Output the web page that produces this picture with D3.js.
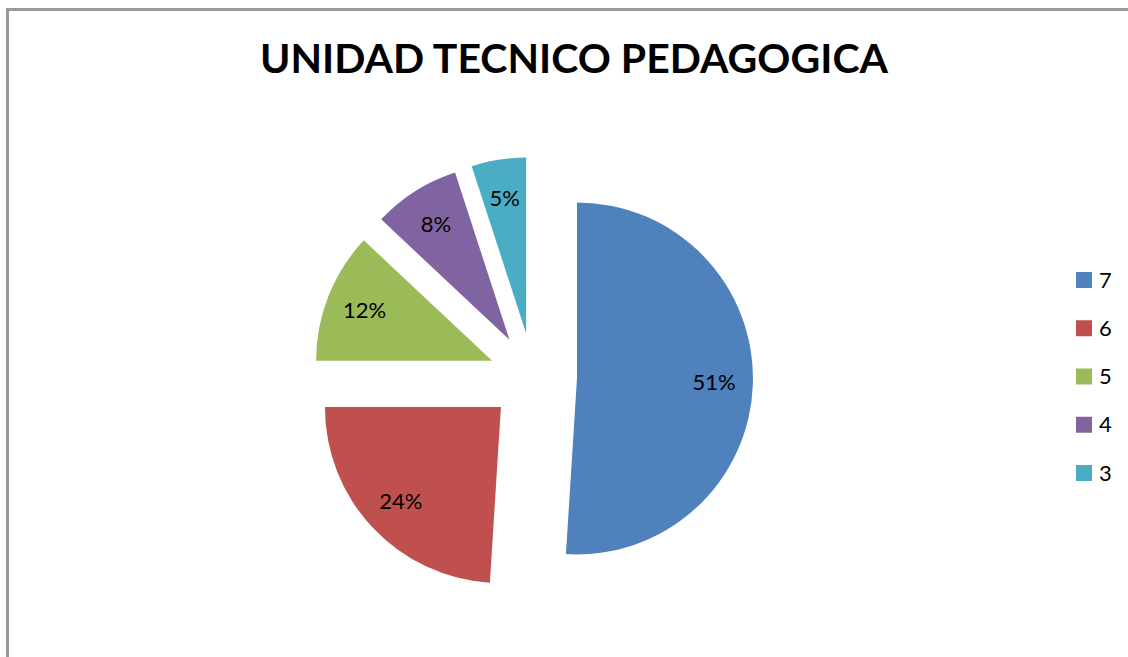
<!DOCTYPE html>
<html>
<head>
<meta charset="utf-8">
<script src="https://cdn.jsdelivr.net/npm/d3@7"></script>
<style>
  body { margin: 0; background: #fff; }
  svg { display: block; }
</style>
</head>
<body>
<svg width="1128" height="657"></svg>
<script>
var categories = ["7", "6", "5", "4", "3"];
var percents = [51, 24, 12, 8, 5];
var colorList = ["#4F81BD", "#C0504D", "#9BBB59", "#8064A2", "#4BACC6"];
var chartTitle = "UNIDAD TECNICO PEDAGOGICA";

var svg = d3.select("svg");

// chart frame (only top and left edges show in the picture)
svg.append("rect")
  .attr("x", 7.5).attr("y", 9.5)
  .attr("width", 1300).attr("height", 800)
  .attr("fill", "none")
  .attr("stroke", "#9a9a9a")
  .attr("stroke-width", 3);

svg.append("text")
  .attr("x", 574).attr("y", 73)
  .attr("text-anchor", "middle")
  .style("font-family", "Lato, sans-serif")
  .style("font-weight", "bold")
  .style("font-size", "41px")
  .attr("fill", "#000")
  .text(chartTitle);

var center = {x: 533, y: 377};
var radius = 176;
var explode = 44;

var data = categories.map(function(c, i) {
  return {cat: c, value: percents[i], color: colorList[i]};
});

var pie = d3.pie().sort(null).value(function(d) { return d.value; });
var arc = d3.arc().innerRadius(0).outerRadius(radius);

var slices = svg.append("g")
  .attr("transform", "translate(" + center.x + "," + center.y + ")")
  .selectAll("g").data(pie(data)).enter()
  .append("g")
  .attr("transform", function(d) {
    var a = (d.startAngle + d.endAngle) / 2;
    return "translate(" + (explode * Math.sin(a)) + "," + (-explode * Math.cos(a)) + ")";
  });

slices.append("path")
  .attr("d", arc)
  .attr("fill", function(d) { return d.data.color; });

slices.append("text")
  .attr("x", function(d) { return radius * 0.78 * Math.sin((d.startAngle + d.endAngle) / 2); })
  .attr("y", function(d) { return -radius * 0.78 * Math.cos((d.startAngle + d.endAngle) / 2); })
  .attr("dy", "0.35em")
  .attr("text-anchor", "middle")
  .style("font-family", "Lato, sans-serif")
  .style("font-size", "22px")
  .attr("fill", "#000")
  .text(function(d) { return d.data.value + "%"; });

// legend
var legendY = d3.scalePoint().domain(categories).range([280, 473]);
var legend = svg.append("g").selectAll("g").data(data).enter()
  .append("g")
  .attr("transform", function(d) { return "translate(1076," + legendY(d.cat) + ")"; });

legend.append("rect")
  .attr("x", 0).attr("y", -8)
  .attr("width", 16).attr("height", 16)
  .attr("fill", function(d) { return d.color; });

legend.append("text")
  .attr("x", 23).attr("dy", "0.35em")
  .style("font-family", "Lato, sans-serif")
  .style("font-size", "22px")
  .attr("fill", "#000")
  .text(function(d) { return d.cat; });
</script>
</body>
</html>
